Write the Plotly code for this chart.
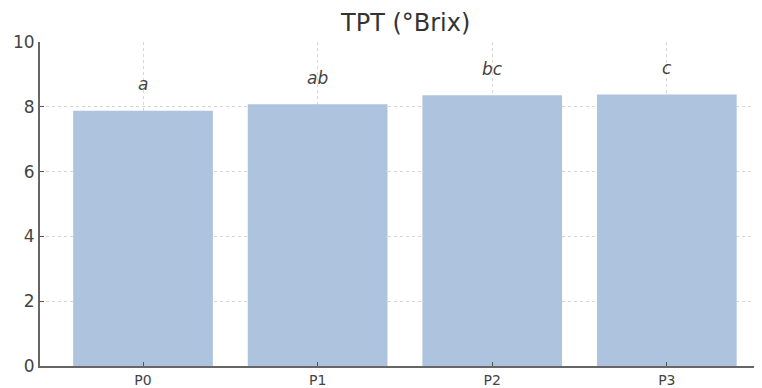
import plotly.graph_objects as go

categories = ["P0", "P1", "P2", "P3"]
values = [7.88, 8.08, 8.36, 8.38]
letters = ["a", "ab", "bc", "c"]
y_ticks = [0, 2, 4, 6, 8, 10]
title_text = "TPT (°Brix)"
letter_offset = 0.82

# page body has an 8px margin; compensate so the plot area lands where the reference has it
W, H = 754, 380
ml, mr, mt, mb = 32, 0, 34, 22

fig = go.Figure()
fig.add_trace(go.Bar(
    x=list(range(len(categories))), y=values, width=0.8,
    marker=dict(color="rgb(174,195,221)", line=dict(width=0)),
    hoverinfo="skip",
))

for i, (v, t) in enumerate(zip(values, letters)):
    fig.add_annotation(x=i, y=v + letter_offset, text=f"<i>{t}</i>", showarrow=False,
                       xanchor="center", yanchor="middle",
                       font=dict(family="DejaVu Sans", size=17, color="#444"))

plot_h = H - mt - mb
fig.add_annotation(x=0.506, xref="paper", y=1 + 19 / plot_h, yref="paper", text=title_text,
                   showarrow=False, xanchor="center", yanchor="middle",
                   font=dict(family="DejaVu Sans", size=24, color="#333"))

fig.update_layout(
    width=W, height=H,
    margin=dict(l=ml, r=mr, t=mt, b=mb, pad=0),
    plot_bgcolor="white", paper_bgcolor="white",
    showlegend=False, bargap=0.2,
    font=dict(family="DejaVu Sans", size=17, color="#444"),
)
fig.update_xaxes(
    range=[-0.59, 3.545],
    tickmode="array", tickvals=list(range(len(categories))), ticktext=categories,
    tickfont=dict(size=14),
    showgrid=True, gridcolor="#d6d6d6", griddash="dot", gridwidth=1,
    showline=True, linecolor="#666", linewidth=2,
    ticks="inside", ticklen=4, tickcolor="#555", tickwidth=1,
    zeroline=False, automargin=False,
)
fig.update_yaxes(
    range=[0, 10],
    tickmode="array", tickvals=y_ticks,
    showgrid=True, gridcolor="#d6d6d6", griddash="dot", gridwidth=1,
    showline=True, linecolor="#666", linewidth=2,
    ticks="inside", ticklen=4, tickcolor="#555", tickwidth=1,
    zeroline=False, automargin=False,
)

fig.write_html("out.html")
